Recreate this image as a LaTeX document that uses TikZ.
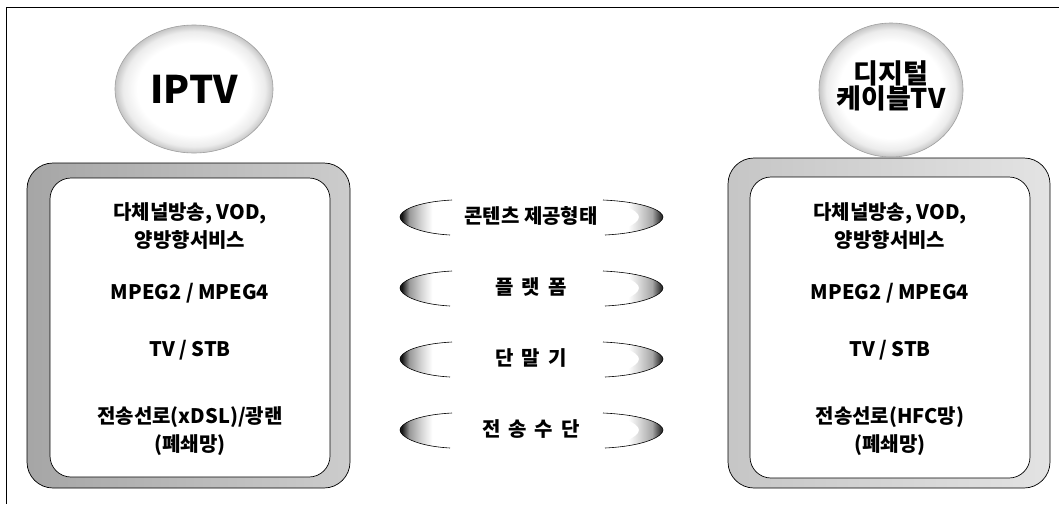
\documentclass[tikz,border=0pt]{standalone}
\usepackage{fontspec}
\setmainfont{Noto Sans CJK KR}
\usetikzlibrary{shapes.geometric}
\pgfdeclareradialshading{ring}{\pgfpoint{0bp}{0bp}}{color(0bp)=(white); color(18bp)=(white); color(22.5bp)=(gray!15); color(25bp)=(gray!45); color(50bp)=(gray!45)}
\pgfdeclarehorizontalshading{lfade}{100bp}{color(0bp)=(black!90); color(27bp)=(black!90); color(34bp)=(gray!80); color(45bp)=(gray!35); color(56bp)=(white); color(100bp)=(white)}
\pgfdeclarehorizontalshading{rfade}{100bp}{color(0bp)=(white); color(46bp)=(white); color(55bp)=(gray!30); color(66bp)=(gray!70); color(73bp)=(black!80); color(100bp)=(black!80)}
\tikzset{
  frame/.style={line width=0.8pt},
  outerbox/.style={draw=black, line width=0.7pt, rounded corners=26pt, inner sep=0},
  innerbox/.style={draw=black, fill=white, line width=0.7pt, rounded corners=21pt, inner sep=0},
  bubble/.style={ellipse, shading=ring, draw=gray!75, line width=0.6pt, inner sep=0},
  bodytext/.style={font=\bfseries\fontsize{20}{28}\selectfont, align=center, inner sep=0},
  midtext/.style={font=\bfseries\fontsize{20}{22}\selectfont, inner sep=0},
  titletext/.style={font=\bfseries\fontsize{38}{40}\selectfont, inner sep=0},
  subtitle/.style={font=\bfseries\fontsize{27}{27}\selectfont, inner sep=0, text height=22pt, text depth=2pt},
  lcres/.pic={
    \shade[shading=lfade]
      (52,-17) .. controls (15,-15) and (0,-6) .. (0,0)
      .. controls (0,6) and (15,16) .. (50,18)
      .. controls (40,15) and (35,8) .. (35,0)
      .. controls (35,-8) and (40,-14) .. (52,-17) -- cycle;
    \draw[line width=0.6pt] (52,-17) .. controls (15,-15) and (0,-6) .. (0,0)
      .. controls (0,6) and (15,16) .. (50,18);
  },
  rcres/.pic={
    \shade[shading=rfade]
      (-60,-17) .. controls (-17,-15) and (0,-6) .. (0,0)
      .. controls (0,6) and (-17,16) .. (-58,18)
      .. controls (-46,15) and (-24,8) .. (-24,0)
      .. controls (-24,-8) and (-46,-14) .. (-60,-17) -- cycle;
    \draw[line width=0.6pt] (-60,-17) .. controls (-17,-15) and (0,-6) .. (0,0)
      .. controls (0,6) and (-17,16) .. (-58,18);
  }
}
\begin{document}
\begin{tikzpicture}[x=1pt,y=-1pt]
\useasboundingbox (0,0) rectangle (1059,504);
\fill[white] (0,0) rectangle (1059,504);
\draw[frame] (1059,7) -- (6,7) -- (6,504);

% left box
\node[outerbox, left color=gray!70, right color=gray!40, minimum width=323pt, minimum height=325pt] (lout) at (188.5,325.5) {};
\node[innerbox, minimum width=280pt, minimum height=299pt] (lin) at (190,327.5) {};
% right box
\node[outerbox, left color=gray!45, right color=gray!22, minimum width=322pt, minimum height=330pt] (rout) at (889,323) {};
\node[innerbox, minimum width=280pt, minimum height=301pt] (rin) at (890,327.5) {};

% bubbles
\node[bubble, minimum width=158pt, minimum height=128pt] (iptv) at (194,89) {};
\node[titletext] (iptvt) at (194,89) {IPTV};
\node[bubble, minimum width=144pt, minimum height=134pt] (dctv) at (891,90) {};
\node[subtitle] (dctv1) at (891,73) {디지털};
\node[subtitle] (dctv2) at (891,98.5) {케이블TV};

% left texts
\node[bodytext] (l1) at (190,226) {다체널방송, VOD,\\양방향서비스};
\node[bodytext] (l2) at (190,293) {MPEG2 / MPEG4};
\node[bodytext] (l3) at (190,350) {TV / STB};
\node[bodytext] (l4) at (190,431) {전송선로(xDSL)/광랜\\(폐쇄망)};
% right texts
\node[bodytext] (r1) at (890,226) {다체널방송, VOD,\\양방향서비스};
\node[bodytext] (r2) at (890,293) {MPEG2 / MPEG4};
\node[bodytext] (r3) at (890,350) {TV / STB};
\node[bodytext] (r4) at (890,431) {전송선로(HFC망)\\(폐쇄망)};

% middle
\pic at (400,217) {lcres};
\pic at (663,217) {rcres};
\node[midtext] (m1) at (531,216) {콘텐츠 제공형태};
\pic at (400,288) {lcres};
\pic at (663,288) {rcres};
\node[midtext] (m2) at (531,287) {플\hspace{0.4em}랫\hspace{0.4em}폼};
\pic at (400,359) {lcres};
\pic at (663,359) {rcres};
\node[midtext] (m3) at (531,358) {단\hspace{0.4em}말\hspace{0.4em}기};
\pic at (400,430) {lcres};
\pic at (663,430) {rcres};
\node[midtext] (m4) at (531,429) {전\hspace{0.4em}송\hspace{0.4em}수\hspace{0.4em}단};
\end{tikzpicture}
\end{document}
